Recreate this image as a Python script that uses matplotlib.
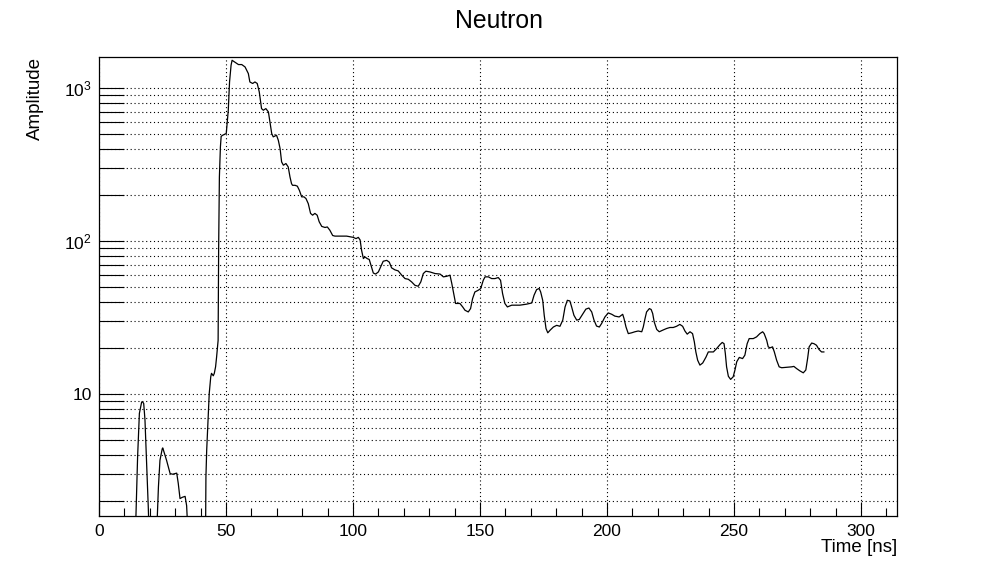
import matplotlib
matplotlib.use("Agg")
import matplotlib.pyplot as plt
from matplotlib.ticker import FixedLocator, NullFormatter, FixedFormatter

plt.rcParams['font.family'] = ['Liberation Sans', 'DejaVu Sans']
plt.rcParams['mathtext.fontset'] = 'custom'
plt.rcParams['mathtext.rm'] = 'Liberation Sans'

title = "Neutron"
xlabel = "Time [ns]"
ylabel = "Amplitude"

time_ns = [
    0.0, 14.2, 15.2, 15.9, 16.8, 17.2, 17.6, 18.1, 18.8, 19.4, 19.9,
    22.5, 23.4, 24.0, 24.9, 25.1, 26.6, 28.0, 29.0, 30.6, 31.2, 31.9, 32.8, 33.9, 34.5, 35.3,
    41.8, 42.0, 42.1, 42.4, 43.0, 43.4, 44.0, 44.3, 45.0, 45.4, 45.9, 46.3, 46.9,
    47.1, 47.4, 47.8, 48.1, 48.7, 50.1, 50.9, 51.4, 52.0, 52.4, 53.0, 53.7, 54.9, 56.2,
    57.5, 58.8, 59.4, 60.5, 61.4, 62.3, 63.1, 64.0, 64.7, 65.7, 66.7, 67.3, 68.0, 68.6,
    69.9, 70.6, 71.3, 71.9, 72.6, 73.6, 74.5, 75.2, 75.8,
    76.2, 77.2, 78.1, 78.9, 79.8, 80.7, 81.5, 82.4, 83.3, 84.1, 85.0, 85.9, 86.7, 87.7,
    89.0, 89.9, 90.9, 92.0, 92.9, 94.2, 97.5, 98.8, 100.1, 101.2, 102.1, 102.8, 103.4,
    104.1, 104.7, 105.6, 106.4, 107.4, 108.0, 108.9, 110.0, 110.9, 111.9, 113.3, 114.3,
    115.2, 116.5, 117.8, 119.2, 120.5, 121.8, 123.1, 124.4, 125.7, 126.7, 127.7, 128.7,
    130.3, 132.3, 134.3, 135.6, 136.9, 138.2, 138.9, 139.8, 140.4, 142.1, 143.2, 144.1,
    145.4, 146.3, 147.1, 148.0, 149.3, 150.3, 151.3, 152.0, 153.3, 154.6, 155.9, 157.2,
    158.1, 158.9, 159.8, 160.8, 162.5, 165.7, 168.4, 170.4, 171.3, 172.3, 173.3, 173.9,
    174.7, 175.3, 176.0, 176.7, 177.6, 178.9, 180.2, 181.5, 182.6, 183.5, 184.4, 185.4,
    186.1, 187.0, 188.1, 189.1, 190.4, 191.7, 192.9, 194.0, 194.9, 195.9, 197.0, 197.9,
    199.2, 200.5, 201.9, 203.1, 204.8, 206.2, 206.7, 207.5, 208.4, 209.7, 211.0, 212.3,
    213.7, 214.3, 215.0, 215.6, 216.7, 217.4, 218.0, 218.6, 219.6, 220.6, 221.9, 223.5,
    224.8, 226.1, 227.4, 228.7, 229.8, 230.7, 231.6, 232.7, 233.7, 234.4, 235.0, 235.7,
    236.6, 237.7, 239.0, 239.9, 241.9, 243.2, 244.5, 245.4, 246.1, 246.6, 247.1, 247.8,
    248.7, 249.7, 250.4, 251.1, 252.1, 253.4, 254.3, 255.2, 256.0, 257.6, 258.9, 260.2,
    261.3, 261.9, 262.9, 263.5, 264.2, 265.2, 265.9, 266.8, 267.8, 268.8, 270.7, 272.7,
    273.6, 274.7, 276.0, 277.3, 278.3, 279.0, 279.6, 280.6, 281.5, 282.5, 283.5, 284.5, 285.4,
]

amplitude = [
    0.8, 1.0, 3.9, 7.5, 8.9, 8.9, 8.7, 6.8, 3.3, 1.83, 1.0,
    1.0, 2.48, 3.7, 4.4, 4.46, 3.7, 3.03, 3.0, 3.05, 2.62, 2.08, 2.12, 2.15, 1.87, 1.0,
    1.0, 1.6, 2.88, 4.3, 7.1, 10.1, 13.0, 13.7, 13.2, 13.7, 15.1, 17.5, 22.5,
    87, 263, 413, 485, 493, 506, 718, 1099, 1413, 1523, 1500, 1471, 1428, 1428,
    1378, 1247, 1099, 1074, 1099, 1074, 946, 736, 718, 736, 700, 602, 506, 481,
    493, 457, 403, 330, 314, 322, 306, 263, 238,
    232, 232, 229, 215, 195, 195, 190, 176, 152, 148, 152, 148, 134, 125,
    123, 124, 118, 109, 108, 108, 108, 107, 106, 104, 106, 102, 87,
    77, 79, 77, 76, 67, 62, 61, 63, 68, 74, 75, 73,
    67, 65, 64, 60, 57, 56.4, 54.2, 51.5, 50.8, 54.2, 61.5, 63.7,
    63, 61.5, 61, 58.5, 59, 60, 53, 44.4, 39.2, 39.2, 37.2, 35.4,
    34.5, 36.3, 42.2, 46.6, 47.8, 49.1, 55.6, 58.5, 58.5, 57, 57, 57.9,
    55.6, 45.5, 39.2, 37.2, 38.2, 38.2, 38.8, 39.5, 44.4, 48.3, 49.1, 46.6,
    41.1, 32.8, 26.9, 25.2, 26.2, 27.5, 28.2, 27.8, 30.5, 37.2, 41.1, 40.7,
    37.2, 32.8, 30.5, 30.8, 33.3, 36.0, 36.6, 34.5, 30.5, 27.9, 27.5, 29.0,
    32.0, 34.0, 33.3, 32.4, 32.0, 33.3, 31.3, 27.5, 24.9, 25.2, 25.6, 25.9,
    25.6, 27.5, 31.3, 34.5, 36.3, 35.8, 33.7, 29.7, 26.5, 25.6, 26.2, 26.9,
    27.3, 27.3, 27.8, 28.6, 27.8, 25.9, 24.7, 25.6, 24.9, 22.0, 18.9, 16.7,
    15.5, 16.0, 17.5, 18.9, 18.9, 19.9, 21.1, 21.8, 21.4, 18.5, 15.1, 13.1,
    12.5, 13.0, 14.4, 16.3, 17.4, 17.1, 18.0, 21.4, 23.1, 23.1, 23.7, 24.9,
    25.6, 24.9, 22.5, 20.4, 20.1, 20.4, 18.9, 16.7, 15.1, 14.9, 15.0, 15.1,
    15.2, 14.7, 14.2, 13.8, 14.4, 17.1, 20.4, 21.6, 21.4, 20.9, 19.6, 18.9, 18.9,
]

x_major = [0, 50, 100, 150, 200, 250, 300]
x_minor = [10, 20, 30, 40, 60, 70, 80, 90, 110, 120, 130, 140, 160, 170, 180, 190,
           210, 220, 230, 240, 260, 270, 280, 290, 310]
y_major = [10, 100, 1000]
y_major_labels = ["10", r"$\mathregular{10^{2}}$", r"$\mathregular{10^{3}}$"]
y_minor = [2, 3, 4, 5, 6, 7, 8, 9, 20, 30, 40, 50, 60, 70, 80, 90,
           200, 300, 400, 500, 600, 700, 800, 900]

fig = plt.figure(figsize=(9.98, 5.74), dpi=100)
ax = fig.add_axes([99/998, 1-516/574, (897-99)/998, (516-57)/574])

ax.plot(time_ns, amplitude, color='black', lw=0.9)
ax.set_yscale('log')
ax.set_xlim(0, 314.2)
ax.set_ylim(1.6, 1600)

ax.xaxis.set_major_locator(FixedLocator(x_major))
ax.xaxis.set_minor_locator(FixedLocator(x_minor))
ax.yaxis.set_major_locator(FixedLocator(y_major))
ax.yaxis.set_major_formatter(FixedFormatter(y_major_labels))
ax.yaxis.set_minor_locator(FixedLocator(y_minor))
ax.yaxis.set_minor_formatter(NullFormatter())

ax.tick_params(axis='x', which='major', direction='in', length=10, width=0.8,
               labelsize=12.5, pad=6, top=False)
ax.tick_params(axis='x', which='minor', direction='in', length=5.5, width=0.8, top=False)
ax.tick_params(axis='y', which='both', direction='in', length=18, width=0.8,
               labelsize=12.5, pad=5, right=False)

grid_style = dict(color='black', linestyle=(0, (1, 2.5)), linewidth=0.8)
ax.grid(True, which='major', axis='x', **grid_style)
ax.grid(True, which='both', axis='y', **grid_style)

for s in ax.spines.values():
    s.set_linewidth(0.9)

fig.text(499/998, 1-21/574, title, ha='center', va='center', fontsize=17.8)
fig.text(897/998, 1-548/574, xlabel, ha='right', va='center', fontsize=13.5)
fig.text(35/998, 1-57/574, ylabel, ha='center', va='top', rotation=90, fontsize=13.5)

fig.savefig("out.png", dpi=100)
